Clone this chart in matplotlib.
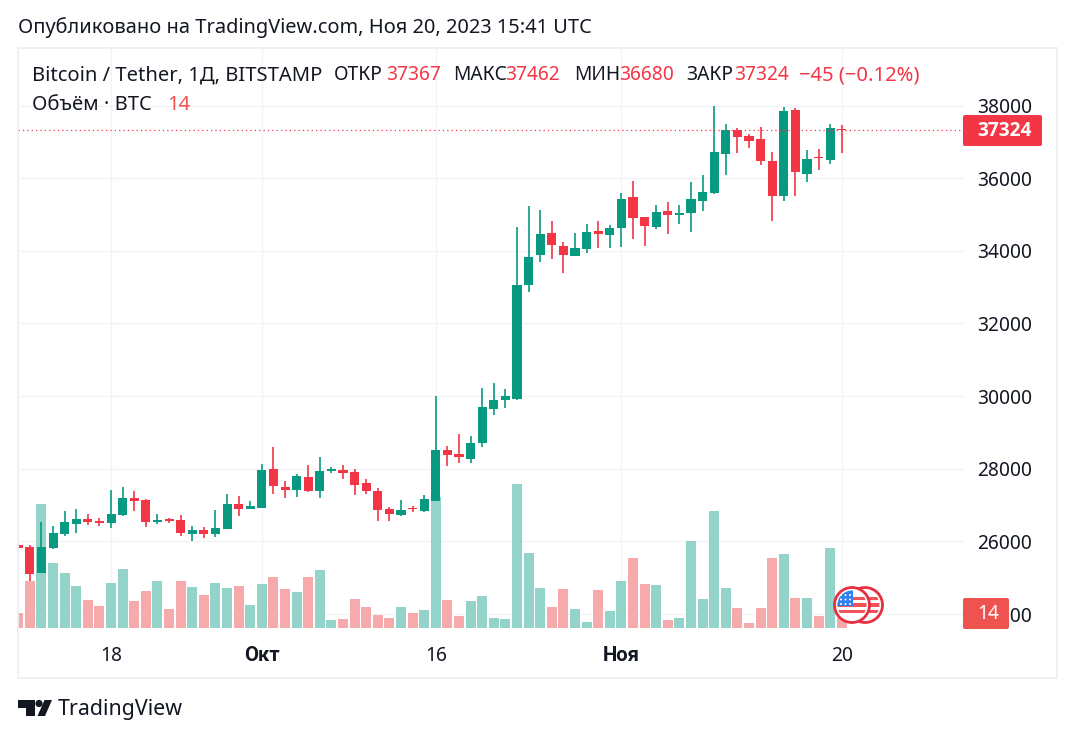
import numpy as np
import pandas as pd
import matplotlib
matplotlib.use('Agg')
import matplotlib.pyplot as plt
import matplotlib.dates as mdates
from matplotlib.patches import Circle, Polygon, Rectangle, FancyBboxPatch

plt.rcParams['font.family'] = ['Noto Sans', 'DejaVu Sans']

dates = pd.date_range('2023-09-10', '2023-11-20')

opens = [25894, 25848, 25132, 25820, 26206, 26481, 26619, 26573, 26508, 26729, 27197, 27142,
         26536, 26609, 26591, 26206, 26316, 26206, 26343, 27031, 26894, 26921, 27995, 27499,
         27417, 27774, 27389, 27948, 27967, 27912, 27609, 27389, 26893, 26728, 26921, 26838,
         27113, 28517, 28407, 28270, 28710, 29646, 29893, 29921, 33060, 33885, 34491, 34133,
         33858, 34051, 34546, 34436, 34629, 35482, 34931, 34656, 35096, 34998, 35041, 35371,
         35592, 36665, 37326, 37160, 37078, 36472, 35509, 37876, 36115, 36582, 36500, 37367]
highs = [25920, 25894, 26536, 26426, 26839, 26894, 26756, 26646, 27417, 27499, 27389, 27169,
         26756, 26655, 26729, 26426, 26398, 26866, 27307, 27252, 27114, 28132, 28600, 27664,
         27857, 28104, 28325, 28049, 28104, 27994, 27719, 27471, 26948, 27141, 26976, 27279,
         30004, 28627, 28958, 28903, 30224, 30361, 30196, 34656, 35234, 35124, 34821, 34243,
         34491, 34739, 34821, 34711, 35592, 35922, 34931, 35262, 35344, 35261, 35894, 36087,
         37986, 37491, 37381, 37216, 37408, 36720, 37959, 37931, 36775, 36803, 37491, 37462]
lows = [25790, 24912, 25132, 25793, 26151, 26233, 26453, 26426, 26371, 26701, 26839, 26398,
        26481, 26508, 26151, 26013, 26096, 26123, 26343, 26701, 26894, 26921, 27307, 27197,
        27224, 27361, 27196, 27884, 27719, 27279, 27306, 26563, 26563, 26701, 26811, 26811,
        27113, 28077, 28159, 28159, 28600, 29481, 29673, 29894, 32867, 33693, 33775, 33390,
        33858, 33941, 34078, 34078, 34106, 34326, 34133, 34601, 34463, 34738, 34518, 35096,
        35564, 36087, 36693, 36830, 36362, 34821, 35371, 35509, 35894, 36225, 36390, 36680]
closes = [25829, 25114, 25848, 26233, 26536, 26619, 26536, 26508, 26756, 27197, 27114, 26536,
          26591, 26563, 26233, 26316, 26206, 26371, 27031, 26894, 26976, 27967, 27527, 27417,
          27802, 27389, 27939, 27985, 27884, 27554, 27389, 26866, 26756, 26866, 26884, 27168,
          28517, 28380, 28325, 28710, 29701, 29893, 30004, 33060, 33830, 34463, 34161, 33885,
          34078, 34518, 34463, 34629, 35427, 34904, 34684, 35069, 34986, 35014, 35426, 35619,
          36720, 37326, 37133, 37023, 36472, 35509, 37849, 36170, 36527, 36564, 37381, 37324]
volumes = [22, 66, 174, 91, 77, 59, 40, 31, 63, 83, 38, 52,
           66, 27, 66, 58, 47, 63, 56, 59, 33, 62, 72, 55,
           51, 72, 82, 12, 13, 41, 30, 19, 14, 30, 21, 26,
           184, 40, 17, 38, 45, 14, 13, 202, 105, 56, 30, 55,
           27, 9, 54, 24, 66, 98, 62, 60, 11, 15, 122, 41,
           164, 57, 29, 7, 29, 99, 104, 43, 43, 17, 113, 14]

price_ticks = [24000, 26000, 28000, 30000, 32000, 34000, 36000, 38000]
time_ticks = ['2023-09-18', '2023-10-01', '2023-10-16', '2023-11-01', '2023-11-20']
time_labels = ['18', 'Окт', '16', 'Ноя', '20']

GREEN = '#089981'
RED = '#F23645'
VOL_GREEN = '#93D3CA'
VOL_RED = '#F7AAAB'
VOL_TAG = '#EF5350'
GRID = '#F2F3F5'
TEXT = '#131722'
FS = 14.5
FS_OHLC = 13.8

W, H = 1075, 739
fig = plt.figure(figsize=(W / 100, H / 100), dpi=100, facecolor='white')


def px_axes(left, top, right, bottom):
    return [left / W, 1 - bottom / H, (right - left) / W, (bottom - top) / H]


x = mdates.date2num(dates)
o, h, l, c = map(np.array, (opens, highs, lows, closes))
up = c >= o

# grid and tick labels live on the bottom axes, bars and candles stack above it
ax = fig.add_axes(px_axes(18, 48, 965, 629))
ax.set_xlim(x[0] - 0.02, x[0] + 81.62)
ax.set_ylim(23591, 39583)

ax_v = ax.twinx()
ax_v.set_ylim(-1, 812)
ax_v.bar(x, volumes, width=0.86, color=[VOL_GREEN if u else VOL_RED for u in up])
ax_v.axis('off')

ax_c = ax.twinx()
ax_c.set_ylim(ax.get_ylim())
colors = [GREEN if u else RED for u in up]
ax_c.vlines(x, l, h, colors=colors, lw=1.2)
ax_c.bar(x, np.maximum(np.abs(c - o), 30), bottom=np.minimum(o, c), width=0.78, color=colors)
ax_c.axhline(closes[-1], color=RED, lw=0.9, ls=(0, (1, 2.5)))
ax_c.axis('off')

# twinx moves the ticks back to the left, so set them up afterwards
ax.yaxis.tick_right()
ax.set_yticks(price_ticks)
ax.set_yticklabels([str(p) for p in price_ticks], fontsize=13.8, color=TEXT)
ax.set_xticks(mdates.date2num(pd.to_datetime(time_ticks)))
ax.set_xticklabels(time_labels, fontsize=13.8, color=TEXT)
for lab in ax.get_xticklabels():
    if lab.get_text() in ('Окт', 'Ноя'):
        lab.set_family(['Roboto', 'DejaVu Sans'])
        lab.set_fontweight('bold')
        lab.set_fontsize(14.6)
ax.tick_params(axis='x', length=0, pad=12)
ax.tick_params(axis='y', length=0, pad=9)
ax.grid(True, color=GRID, lw=1)
ax.set_axisbelow(True)
for s in ax.spines.values():
    s.set_visible(False)

# texts and shapes placed in pixels of the picture
ov = fig.add_axes([0, 0, 1, 1], zorder=10)
ov.set_xlim(0, W)
ov.set_ylim(H, 0)
ov.axis('off')
ov.add_patch(Rectangle((18, 48), 1039, 630, fc='none', ec='#EEEEF3', lw=1.3))

ov.text(18, 28, 'Опубликовано на TradingView.com, Ноя 20, 2023 15:41 UTC',
        fontsize=FS - 0.1, color=TEXT, va='center')
ov.text(32, 75, 'Bitcoin / Tether, 1Д, BITSTAMP', fontsize=FS, color=TEXT, va='center')
ov.text(334, 75, 'ОТКР', fontsize=FS_OHLC, color=TEXT, va='center')
ov.text(386, 75, '37367', fontsize=FS_OHLC, color=RED, va='center')
ov.text(453, 75, 'МАКС', fontsize=FS_OHLC, color=TEXT, va='center')
ov.text(505, 75, '37462', fontsize=FS_OHLC, color=RED, va='center')
ov.text(574, 75, 'МИН', fontsize=FS_OHLC, color=TEXT, va='center')
ov.text(619, 75, '36680', fontsize=FS_OHLC, color=RED, va='center')
ov.text(686, 75, 'ЗАКР', fontsize=FS_OHLC, color=TEXT, va='center')
ov.text(734, 75, '37324', fontsize=FS_OHLC, color=RED, va='center')
ov.text(799, 75, '−45 (−0.12%)', fontsize=FS, color=RED, va='center')
ov.text(32, 105, 'Объём · BTC', fontsize=FS, color=TEXT, va='center')
ov.text(167, 105, '14', fontsize=FS, color=VOL_TAG, va='center')

ov.add_patch(FancyBboxPatch((964, 116), 77, 29, boxstyle='round,pad=1,rounding_size=2', fc=RED, ec='none'))
ov.text(1005, 130.5, '37324', fontsize=13.8, color='white', weight='bold', ha='center', va='center',
        family=['Open Sans', 'DejaVu Sans'])
ov.add_patch(FancyBboxPatch((964, 599), 44, 29, boxstyle='round,pad=1,rounding_size=2', fc=VOL_TAG, ec='none'))
ov.text(988, 614, '14', fontsize=13.8, color='white', ha='center', va='center')


def draw_flag(cx, cy, r, canton):
    disc = Circle((cx, cy), r, fc='white', ec='#E5303F', lw=2)
    ov.add_patch(disc)
    inner = Circle((cx, cy), r - 3, transform=ov.transData)
    for k in range(-2, 3, 2):
        st = Rectangle((cx - r, cy + k * 3.2 - 1.7), 2 * r, 3.4, fc='#F0525C', ec='none')
        ov.add_patch(st)
        st.set_clip_path(inner)
    if canton:
        box = Rectangle((cx - r, cy - r), r + 1, r + 1, fc='#2F80ED', ec='none')
        ov.add_patch(box)
        box.set_clip_path(inner)
        for i in range(3):
            for j in range(3):
                ov.add_patch(Circle((cx - 11 + i * 4.5, cy - 10 + j * 4.5), 1, fc='white', ec='none'))


draw_flag(865, 605, 17.5, False)
draw_flag(852, 605, 17.5, True)

# TradingView logo
ov.add_patch(Polygon([(18, 700), (34.5, 700), (34.5, 716), (26, 716), (26, 708), (18, 708)], fc=TEXT, ec='none'))
ov.add_patch(Circle((39, 703.5), 3.6, fc=TEXT, ec='none'))
ov.add_patch(Polygon([(52, 700), (44.5, 700), (37.5, 716), (45, 716)], fc=TEXT, ec='none'))
ov.text(58, 709, 'TradingView', fontsize=15.4, color=TEXT, va='center')

fig.savefig('out.png', dpi=100)
